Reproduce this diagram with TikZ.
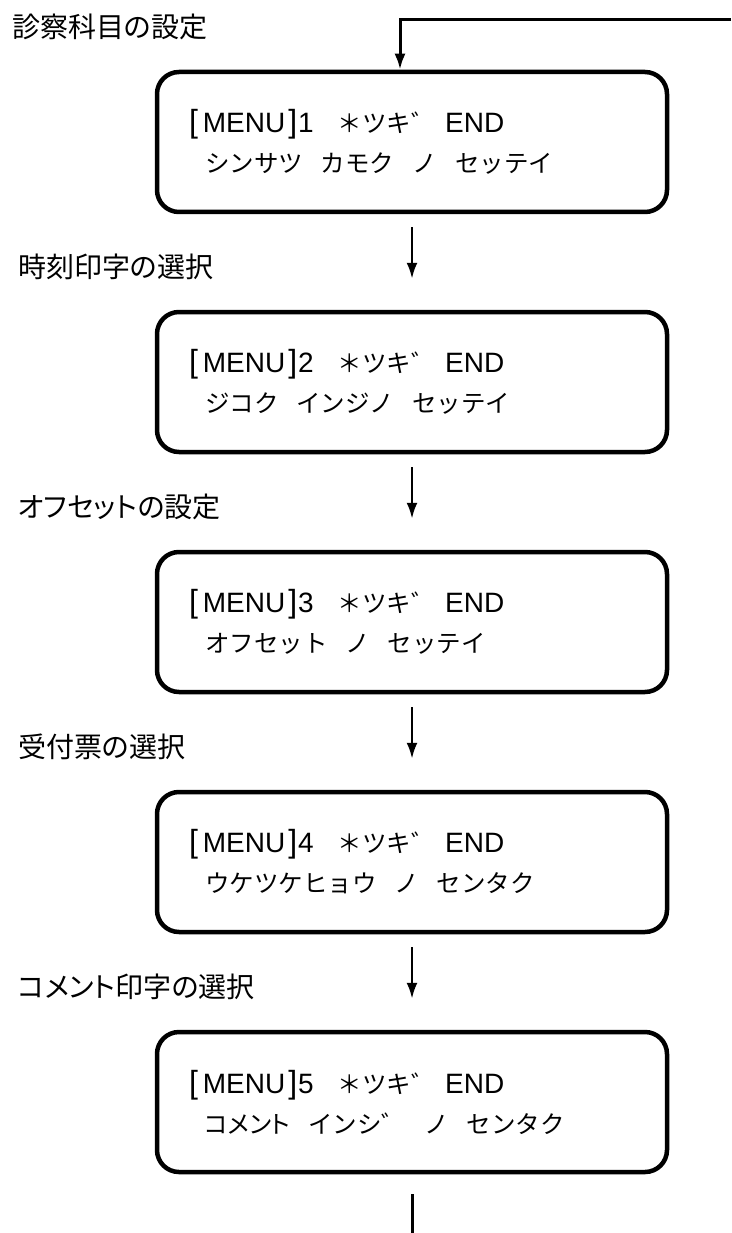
\documentclass[tikz,border=0pt]{standalone}
\usepackage{fontspec}
\setmainfont{Liberation Sans}
\newfontfamily\jp[RawFeature=+palt]{Noto Sans CJK JP}
\newfontfamily\jpf{Noto Sans CJK JP}
\newcommand\menuhead[1]{{\fontsize{32}{40}\selectfont[}\hspace{5pt}MENU\hspace{3pt}{\fontsize{32}{40}\selectfont]}\hspace{1pt}#1\hspace{24pt}{\jpf\fontsize{24.5}{40}\selectfont ＊ツキ゛} END}
\newcommand\gap{\hspace{18pt}}
\usetikzlibrary{positioning}
\usetikzlibrary{arrows.meta}

\begin{document}
\begin{tikzpicture}[x=1pt,y=-1pt,node distance=240pt,on grid,
  menu/.style={draw,line width=4.5pt,rounded corners=22pt,minimum width=510pt,
    minimum height=140pt,text width=446pt,inner xsep=32pt,align=left,
    font=\fontsize{28}{40}\selectfont},
  steplabel/.style={anchor=west,inner sep=0pt,font=\jp\fontsize{28}{32}\selectfont},
  flow/.style={line width=2.5pt,-{Latex[length=16pt,width=11pt]}},
  feed/.style={line width=3pt}]
   \useasboundingbox (0,0) rectangle (731,1233);
   % menu screens
   \node[menu] (m1) at (412,142)
     {\menuhead{1}\\\hspace*{16pt}{\jpf\fontsize{24.5}{40}\selectfont シンサツ\gap カモク\gap ノ\gap セッテイ}};
   \node[menu] (m2) [below=of m1]
     {\menuhead{2}\\\hspace*{16pt}{\jpf\fontsize{24.5}{40}\selectfont ジコク\gap インジノ\gap セッテイ}};
   \node[menu] (m3) [below=of m2]
     {\menuhead{3}\\\hspace*{16pt}{\jpf\fontsize{24.5}{40}\selectfont オフセット\gap ノ\gap セッテイ}};
   \node[menu] (m4) [below=of m3]
     {\menuhead{4}\\\hspace*{16pt}{\jpf\fontsize{24.5}{40}\selectfont ウケツケヒョウ\gap ノ\gap センタク}};
   \node[menu] (m5) [below=of m4]
     {\menuhead{5}\\\hspace*{16pt}{\jpf\fontsize{24.5}{40}\selectfont {\jp コメント}\gap インシ゛\gap ノ\gap センタク}};
   % step titles
   \node[steplabel] (t1) at (12,27) {診察科目の設定};
   \node[steplabel] (t2) at (18,267) {時刻印字の選択};
   \node[steplabel] (t3) at (18,507) {オフセットの設定};
   \node[steplabel] (t4) at (18,747) {受付票の選択};
   \node[steplabel] (t5) at (18,987) {コメント印字の選択};
   % connectors
   \coordinate (back) at (731,20);
   \coordinate (out) at (412,1233);
   \draw[feed,-{Latex[length=16pt,width=11pt]}] (back) -| ([xshift=-12pt]m1.north);
   \draw[flow] ([yshift=-13pt]m1.south) -- ([yshift=31pt]m2.north);
   \draw[flow] ([yshift=-13pt]m2.south) -- ([yshift=31pt]m3.north);
   \draw[flow] ([yshift=-13pt]m3.south) -- ([yshift=31pt]m4.north);
   \draw[flow] ([yshift=-13pt]m4.south) -- ([yshift=31pt]m5.north);
   \draw[feed] ([yshift=-20pt]m5.south) -- (out);
\end{tikzpicture}
\end{document}
